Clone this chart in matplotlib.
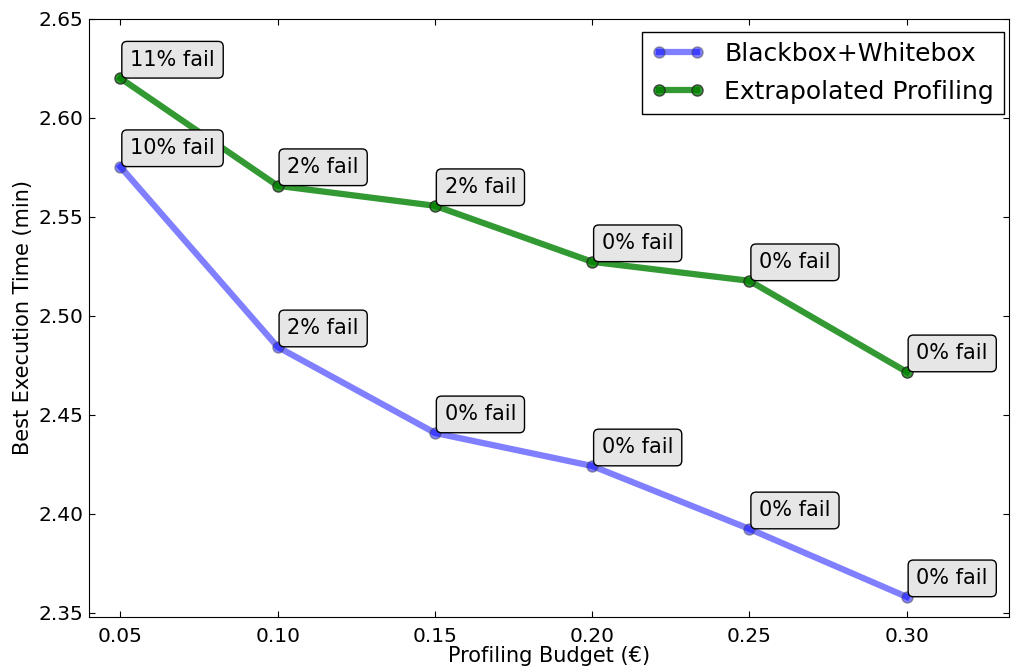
import matplotlib
matplotlib.use("Agg")
import matplotlib.pyplot as plt

# Profiling budget (euro) on the x axis
budget = [0.05, 0.10, 0.15, 0.20, 0.25, 0.30]
# Best execution time (min) for each method
bb_wb = [2.5753, 2.4843, 2.4409, 2.4242, 2.3924, 2.3581]
extrap = [2.6200, 2.5657, 2.5556, 2.5273, 2.5177, 2.4717]
# failure labels next to each point
bb_wb_fail = ["10% fail", "2% fail", "0% fail", "0% fail", "0% fail", "0% fail"]
extrap_fail = ["11% fail", "2% fail", "2% fail", "0% fail", "0% fail", "0% fail"]
yticks = [2.35, 2.40, 2.45, 2.50, 2.55, 2.60, 2.65]

fig, ax = plt.subplots(figsize=(10.11, 6.72), dpi=100)

ax.plot(budget, bb_wb, color="blue", alpha=0.5, linewidth=4.5, marker="o",
        markersize=8, markeredgecolor="0.3", label="Blackbox+Whitebox")
ax.plot(budget, extrap, color="green", alpha=0.8, linewidth=4.5, marker="o",
        markersize=8, markeredgecolor="0.15", label="Extrapolated Profiling")

box = dict(boxstyle="round,pad=0.4,rounding_size=0.25", fc="0.9", ec="black", lw=1)
for xv, yv, s in zip(budget, bb_wb, bb_wb_fail):
    ax.annotate(s, (xv, yv), xytext=(7, 9), textcoords="offset points",
                fontsize=15, bbox=box)
for xv, yv, s in zip(budget, extrap, extrap_fail):
    ax.annotate(s, (xv, yv), xytext=(7, 9), textcoords="offset points",
                fontsize=15, bbox=box)

ax.set_xlim(0.04, 0.3325)
ax.set_ylim(2.348, 2.65)
ax.set_xticks(budget)
ax.set_xticklabels(["%.2f" % b for b in budget])
ax.set_yticks(yticks)
ax.set_yticklabels(["%.2f" % v for v in yticks])
ax.tick_params(direction="in", top=True, right=True, labelsize=14.5, length=4)
ax.tick_params(axis="x", pad=7)
ax.tick_params(axis="y", pad=4)
ax.set_xlabel("Profiling Budget (€)", fontsize=15, labelpad=0)
ax.set_ylabel("Best Execution Time (min)", fontsize=15, labelpad=4)

leg = ax.legend(loc="upper right", bbox_to_anchor=(1 - 5 / 920, 1 - 13 / 598),
                borderaxespad=0, fontsize=18, fancybox=False, framealpha=1,
                edgecolor="black", borderpad=0.4, handlelength=2.1, numpoints=2,
                labelspacing=0.56)
leg.get_frame().set_linewidth(1)

plt.subplots_adjust(left=0.088, right=0.998, top=0.972, bottom=0.082)
plt.savefig("out.png", dpi=100)
